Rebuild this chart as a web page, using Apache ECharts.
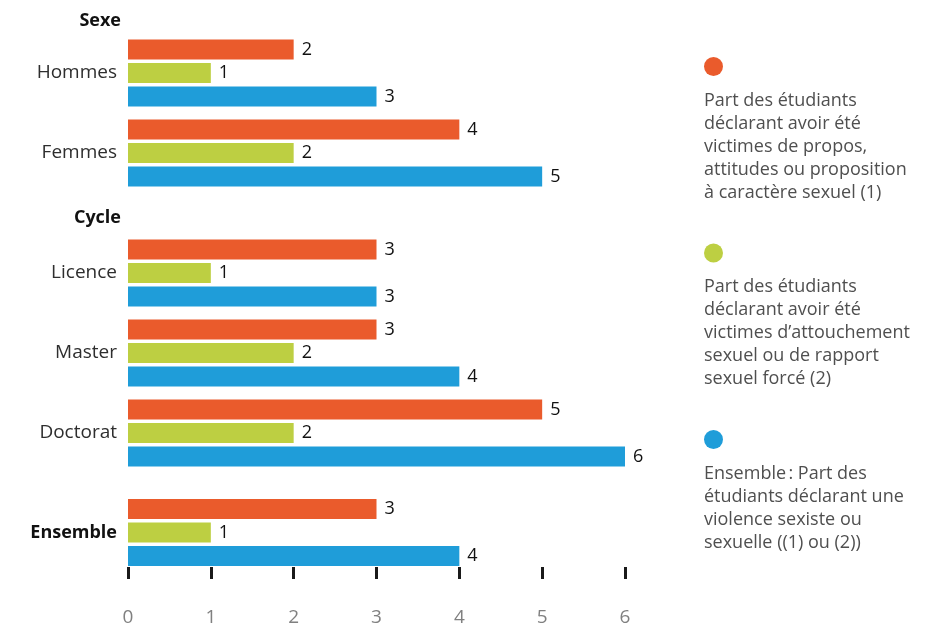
<!DOCTYPE html>
<html>
<head>
<meta charset="utf-8">
<script src="https://cdn.jsdelivr.net/npm/echarts@6/dist/echarts.min.js"></script>
<style>
  html, body { margin: 0; padding: 0; background: #ffffff; }
  #chart { width: 929px; height: 627px; }
</style>
</head>
<body>
<div id="chart"></div>
<script>
// ---- Data ----
const categories = ['Hommes', 'Femmes', 'Licence', 'Master', 'Doctorat', 'Ensemble'];
const groupHeaders = ['Sexe', 'Cycle', ''];
const groupOfCategory = [0, 0, 1, 1, 1, 2];
const boldCategories = ['Ensemble'];
const propos = [2, 4, 3, 3, 5, 3];          // (1)
const attouchement = [1, 2, 1, 2, 2, 1];    // (2)
const violence = [3, 5, 3, 4, 6, 4];        // (1) ou (2)
const legendLines = [
  ['Part des étudiants', 'déclarant avoir été', 'victimes de propos,', 'attitudes ou proposition', 'à caractère sexuel (1)'],
  ['Part des étudiants', 'déclarant avoir été', 'victimes d\u2019attouchement', 'sexuel ou de rapport', 'sexuel forcé (2)'],
  ['Ensemble\u202f: Part des', 'étudiants déclarant une', 'violence sexiste ou', 'sexuelle ((1) ou (2))']
];
const xMin = 0, xMax = 6, xStep = 1;

// ---- Styles / layout ----
const FONT = '"Open Sans", "Noto Sans", sans-serif';
const colors = ['#EA5B2C', '#BDCF42', '#1F9DD9'];
const gridLayout = [
  { top: 33, height: 160 },
  { top: 233, height: 240 },
  { top: 495, height: 76 }
];
const seriesDefs = [
  { values: propos, color: colors[0] },
  { values: attouchement, color: colors[1] },
  { values: violence, color: colors[2] }
].map((s, i) => Object.assign(s, { name: legendLines[i].join(' ') }));

const grids = [], xAxes = [], yAxes = [], series = [];
groupHeaders.forEach((header, g) => {
  const idx = categories.map((c, i) => i).filter(i => groupOfCategory[i] === g);
  const last = g === groupHeaders.length - 1;
  grids.push({ left: 128, width: 497, top: gridLayout[g].top, height: gridLayout[g].height });
  xAxes.push({
    gridIndex: g, type: 'value', min: xMin, max: xMax, interval: xStep,
    show: last, offset: -3,
    axisLine: { show: false },
    axisTick: { show: true, length: 12, lineStyle: { color: '#1a1a1a', width: 3 } },
    splitLine: { show: false },
    axisLabel: { margin: 41, color: '#808080', fontSize: 19, fontFamily: FONT }
  });
  yAxes.push({
    gridIndex: g, type: 'category', inverse: true,
    data: idx.map(i => boldCategories.includes(categories[i])
      ? { value: categories[i], textStyle: { fontWeight: 'bold', fontSize: 18, color: '#111' } }
      : categories[i]),
    name: header, nameLocation: 'start', nameGap: g === 0 ? 12 : 15,
    nameTextStyle: { align: 'right', verticalAlign: 'middle', fontWeight: 'bold', fontSize: 18,
      color: '#111', fontFamily: FONT, padding: [0, 7, 0, 0] },
    axisLine: { show: false }, axisTick: { show: false }, splitLine: { show: false },
    axisLabel: { margin: 11, color: '#2e2e2e', fontSize: 19, fontFamily: FONT }
  });
  seriesDefs.forEach(s => {
    series.push({
      type: 'bar', name: s.name, xAxisIndex: g, yAxisIndex: g,
      data: idx.map(i => s.values[i]),
      barWidth: 20, barGap: '17.5%',
      itemStyle: { color: s.color },
      label: { show: true, position: 'right', distance: 8, color: '#111', fontSize: 18, fontFamily: FONT }
    });
  });
});

const chart = echarts.init(document.getElementById('chart'), null, { renderer: 'canvas' });
chart.setOption({
  animation: false,
  backgroundColor: '#ffffff',
  grid: grids, xAxis: xAxes, yAxis: yAxes, series: series,
  legend: {
    orient: 'vertical', left: 694, top: 52, padding: 5, itemGap: 42,
    itemWidth: 0, itemHeight: 0, selectedMode: false,
    data: seriesDefs.map((s, i) => ({
      name: s.name,
      textStyle: {
        color: '#4f4f4f', fontFamily: FONT, fontSize: 18,
        rich: {
          dot: { width: 19, height: 19, borderRadius: 9.5, backgroundColor: s.color, lineHeight: 45 },
          t: { color: '#4f4f4f', fontFamily: FONT, fontSize: 18, lineHeight: 23 }
        }
      }
    })),
    formatter: name => {
      const i = seriesDefs.findIndex(s => s.name === name);
      return '{dot| }\n' + legendLines[i].map(l => '{t|' + l + '}').join('\n');
    }
  }
});
</script>
</body>
</html>
